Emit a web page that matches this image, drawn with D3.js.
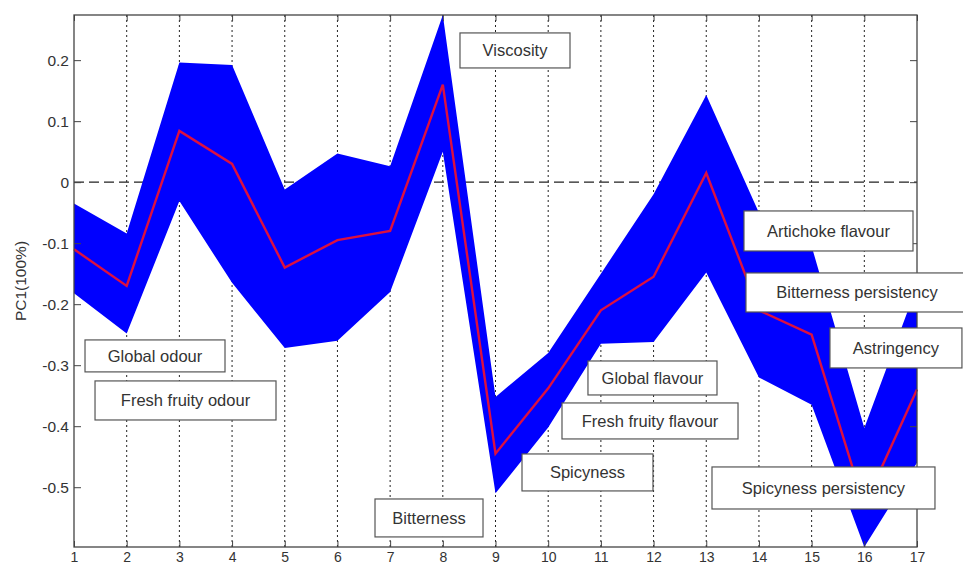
<!DOCTYPE html>
<html>
<head>
<meta charset="utf-8">
<script src="https://cdn.jsdelivr.net/npm/d3@7"></script>
<style>
  html, body { margin: 0; padding: 0; background: #fff; }
  svg { display: block; font-family: "Liberation Sans", Arial, sans-serif; }
</style>
</head>
<body>
<svg id="chart" width="963" height="566"></svg>
<script>
// Attribute index along the x axis
const attributes = [1, 2, 3, 4, 5, 6, 7, 8, 9, 10, 11, 12, 13, 14, 15, 16, 17];

// PC1 loading: mean curve and the band around it
const meanValues  = [-0.11, -0.17, 0.084, 0.03, -0.14, -0.095, -0.08, 0.16, -0.445, -0.338, -0.21, -0.155, 0.015, -0.21, -0.25, -0.53, -0.34];
const upperValues = [-0.035, -0.084, 0.196, 0.192, -0.012, 0.047, 0.026, 0.274, -0.352, -0.28, -0.15, -0.02, 0.143, -0.05, -0.105, -0.403, -0.17];
const lowerValues = [-0.182, -0.248, -0.031, -0.165, -0.272, -0.26, -0.18, 0.05, -0.51, -0.402, -0.265, -0.262, -0.148, -0.32, -0.365, -0.598, -0.46];

// Axis ticks
const xTicks = [1, 2, 3, 4, 5, 6, 7, 8, 9, 10, 11, 12, 13, 14, 15, 16, 17];
const yTicks = [-0.5, -0.4, -0.3, -0.2, -0.1, 0, 0.1, 0.2];
const yLabel = "PC1(100%)";

// Attribute names shown in text boxes
const boxTexts = [
  "Global odour", "Fresh fruity odour", "Viscosity", "Bitterness", "Spicyness",
  "Global flavour", "Fresh fruity flavour", "Artichoke flavour",
  "Bitterness persistency", "Astringency", "Spicyness persistency"
];

// Text box extents in data units: [x0, x1, yTop, yBottom]
const boxExtents = [
  [1.209, 3.866, -0.2586, -0.311],
  [1.399, 4.834, -0.3258, -0.3898],
  [8.326, 10.414, 0.2446, 0.1872],
  [6.713, 8.763, -0.5193, -0.5815],
  [9.503, 11.989, -0.4455, -0.5061],
  [10.755, 13.204, -0.2931, -0.3488],
  [10.262, 13.603, -0.3619, -0.4209],
  [13.716, 16.924, -0.0472, -0.1128],
  [13.754, 17.968, -0.1488, -0.2128],
  [15.348, 17.853, -0.239, -0.3045],
  [13.109, 17.341, -0.4668, -0.5357]
];

const svg = d3.select("#chart");
const plot = { left: 74, right: 917, top: 15, bottom: 547 };

const x = d3.scaleLinear()
  .domain(d3.extent(attributes))
  .range([plot.left, plot.right]);

const y = d3.scaleLinear()
  .domain([d3.min(lowerValues), d3.max(upperValues)])
  .range([plot.bottom, plot.top]);

const rows = attributes.map((a, i) => ({
  a, mean: meanValues[i], hi: upperValues[i], lo: lowerValues[i]
}));

// Vertical dotted grid lines
svg.append("g")
  .selectAll("line")
  .data(xTicks.slice(1, -1))
  .join("line")
  .attr("x1", d => x(d)).attr("x2", d => x(d))
  .attr("y1", plot.top).attr("y2", plot.bottom)
  .attr("stroke", "#222")
  .attr("stroke-width", 1)
  .attr("stroke-dasharray", "2,3");

// Dashed zero line
svg.append("line")
  .attr("x1", plot.left).attr("x2", plot.right)
  .attr("y1", y(0)).attr("y2", y(0))
  .attr("stroke", "#222")
  .attr("stroke-width", 1.2)
  .attr("stroke-dasharray", "10,5");

// Band
svg.append("path")
  .datum(rows)
  .attr("fill", "#0000ff")
  .attr("d", d3.area()
    .x(d => x(d.a))
    .y0(d => y(d.lo))
    .y1(d => y(d.hi)));

// Mean curve
svg.append("path")
  .datum(rows)
  .attr("fill", "none")
  .attr("stroke", "#dc1040")
  .attr("stroke-width", 2.4)
  .attr("stroke-linejoin", "miter")
  .attr("d", d3.line()
    .x(d => x(d.a))
    .y(d => y(d.mean)));

// Axes: ticks point inward on all four sides
const fmt = d => (d === 0 ? "0" : String(+d.toFixed(1)));
const axisColor = "#444";

function styleAxis(g, size) {
  g.select(".domain").remove();
  g.selectAll(".tick line").attr("stroke", axisColor);
  g.selectAll(".tick text")
    .attr("fill", "#333")
    .style("font-size", size)
    .style("font-family", "'Liberation Sans', Arial, sans-serif");
}

svg.append("g")
  .attr("transform", `translate(0,${plot.bottom})`)
  .call(d3.axisBottom(x).tickValues(xTicks).tickFormat(d3.format("d")).tickSize(-6).tickPadding(5))
  .call(styleAxis, "14px");

svg.append("g")
  .attr("transform", `translate(0,${plot.top})`)
  .call(d3.axisTop(x).tickValues(xTicks).tickFormat("").tickSize(-6))
  .call(styleAxis, "14px");

svg.append("g")
  .attr("transform", `translate(${plot.left},0)`)
  .call(d3.axisLeft(y).tickValues(yTicks).tickFormat(fmt).tickSize(-7).tickPadding(5))
  .call(styleAxis, "15.5px");

svg.append("g")
  .attr("transform", `translate(${plot.right},0)`)
  .call(d3.axisRight(y).tickValues(yTicks).tickFormat("").tickSize(-7))
  .call(styleAxis, "15.5px");

// Frame
svg.append("rect")
  .attr("x", plot.left).attr("y", plot.top)
  .attr("width", plot.right - plot.left)
  .attr("height", plot.bottom - plot.top)
  .attr("fill", "none")
  .attr("stroke", axisColor)
  .attr("stroke-width", 1.3);

// Y axis title
svg.append("text")
  .attr("transform", `translate(20,${(plot.top + plot.bottom) / 2}) rotate(-90)`)
  .attr("text-anchor", "middle")
  .attr("dominant-baseline", "central")
  .attr("fill", "#333")
  .style("font-size", "15.5px")
  .text(yLabel);

// Attribute text boxes
const boxes = svg.append("g")
  .selectAll("g")
  .data(boxTexts.map((t, i) => ({ t, e: boxExtents[i] })))
  .join("g");

boxes.append("rect")
  .attr("x", d => x(d.e[0]))
  .attr("y", d => y(d.e[2]))
  .attr("width", d => x(d.e[1]) - x(d.e[0]))
  .attr("height", d => y(d.e[3]) - y(d.e[2]))
  .attr("fill", "#fff")
  .attr("stroke", "#555")
  .attr("stroke-width", 1.2);

boxes.append("text")
  .attr("x", d => (x(d.e[0]) + x(d.e[1])) / 2)
  .attr("y", d => (y(d.e[2]) + y(d.e[3])) / 2)
  .attr("text-anchor", "middle")
  .attr("dominant-baseline", "central")
  .attr("fill", "#333")
  .style("font-size", "16.5px")
  .text(d => d.t);
</script>
</body>
</html>
